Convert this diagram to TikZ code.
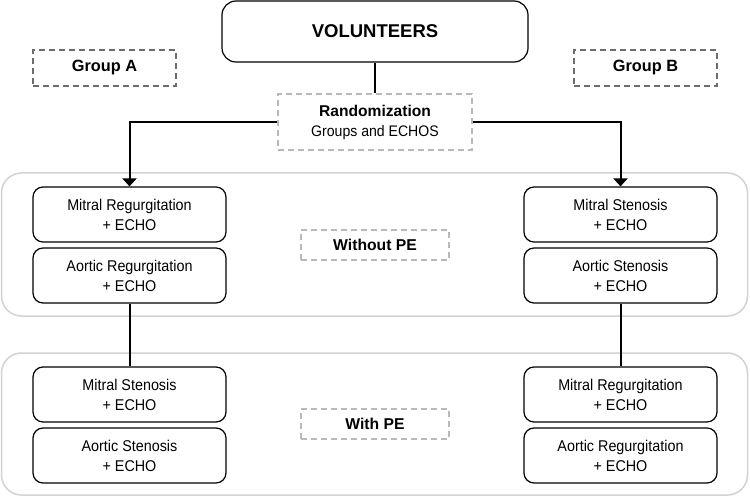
\documentclass[tikz,border=0pt]{standalone}
\usepackage{fontspec}
\setmainfont{Liberation Sans}
\newfontfamily\narrowfont{Liberation Sans}[FakeStretch=0.92]
\usetikzlibrary{arrows.meta}

\begin{document}
\begin{tikzpicture}[x=1pt, y=-1pt,
                    >={Triangle[length=8pt,width=14pt]},
                    stage/.style={draw, rounded corners=10pt, line width=1.2pt,
                                  minimum width=193pt, minimum height=55pt, inner sep=0pt,
                                  align=center, font=\narrowfont\fontsize{15.6}{20}\selectfont},
                    tag/.style={draw=gray!85!black, dashed, dash pattern=on 6pt off 4pt,
                                line width=1.3pt, inner sep=0pt, align=center},
                    softtag/.style={tag, draw=gray!55},
                    panel/.style={draw=gray!35, line width=1.5pt, rounded corners=20pt,
                                  inner sep=0pt},
                    link/.style={line width=2pt}]

    \useasboundingbox (0,0) rectangle (750,497);

    % ==========================================================
    % cabecera
    % ==========================================================
    \node[draw, rounded corners=14pt, line width=1.2pt, minimum width=306pt,
          minimum height=61pt, inner sep=0pt,
          font=\fontsize{18.5}{22}\selectfont\bfseries] (vol) at (375,31.5) {VOLUNTEERS};

    \node[tag, minimum width=143pt, minimum height=36pt,
          font=\fontsize{16.3}{19}\selectfont\bfseries] (grpA) at (104.5,68) {Group A};
    \node[tag, minimum width=143pt, minimum height=36pt,
          font=\fontsize{16.3}{19}\selectfont\bfseries] (grpB) at (645.5,68) {Group B};

    \node[softtag, minimum width=194pt, minimum height=56pt,
          font=\narrowfont\fontsize{15.3}{20}\selectfont] (rand) at (375,122)
          {{\normalfont\fontsize{15.6}{20}\selectfont\bfseries Randomization}\\Groups and ECHOS};

    % ==========================================================
    % sin PE
    % ==========================================================
    \node[panel, minimum width=746pt, minimum height=143pt] (noPE) at (374.5,244.5) {};

    \node[stage] (mrA) at (129.5,214.5) {Mitral Regurgitation\\+ ECHO};
    \node[stage] (arA) at (129.5,275.5) {Aortic Regurgitation\\+ ECHO};
    \node[stage] (msB) at (620.5,214.5) {Mitral Stenosis\\+ ECHO};
    \node[stage] (asB) at (620.5,275.5) {Aortic Stenosis\\+ ECHO};

    \node[softtag, minimum width=148pt, minimum height=30pt,
          font=\fontsize{15.7}{19}\selectfont\bfseries] (lblNo) at (375,245) {Without PE};

    % ==========================================================
    % con PE
    % ==========================================================
    \node[panel, minimum width=746pt, minimum height=142pt] (withPE) at (374.5,424) {};

    \node[stage] (msA) at (129.5,394.5) {Mitral Stenosis\\+ ECHO};
    \node[stage] (asA) at (129.5,455.5) {Aortic Stenosis\\+ ECHO};
    \node[stage] (mrB) at (620.5,394.5) {Mitral Regurgitation\\+ ECHO};
    \node[stage] (arB) at (620.5,455.5) {Aortic Regurgitation\\+ ECHO};

    \node[softtag, minimum width=148pt, minimum height=30pt,
          font=\fontsize{15.7}{19}\selectfont\bfseries] (lblWith) at (375,424) {With PE};

    % conectores
    \draw[link] (vol.south) -- (rand.north);
    \draw[link, ->] (rand.west) -| (mrA.north);
    \draw[link, ->] (rand.east) -| (msB.north);
    \draw[link] (arA.south) -- (msA.north);
    \draw[link] (asB.south) -- (mrB.north);

\end{tikzpicture}
\end{document}
